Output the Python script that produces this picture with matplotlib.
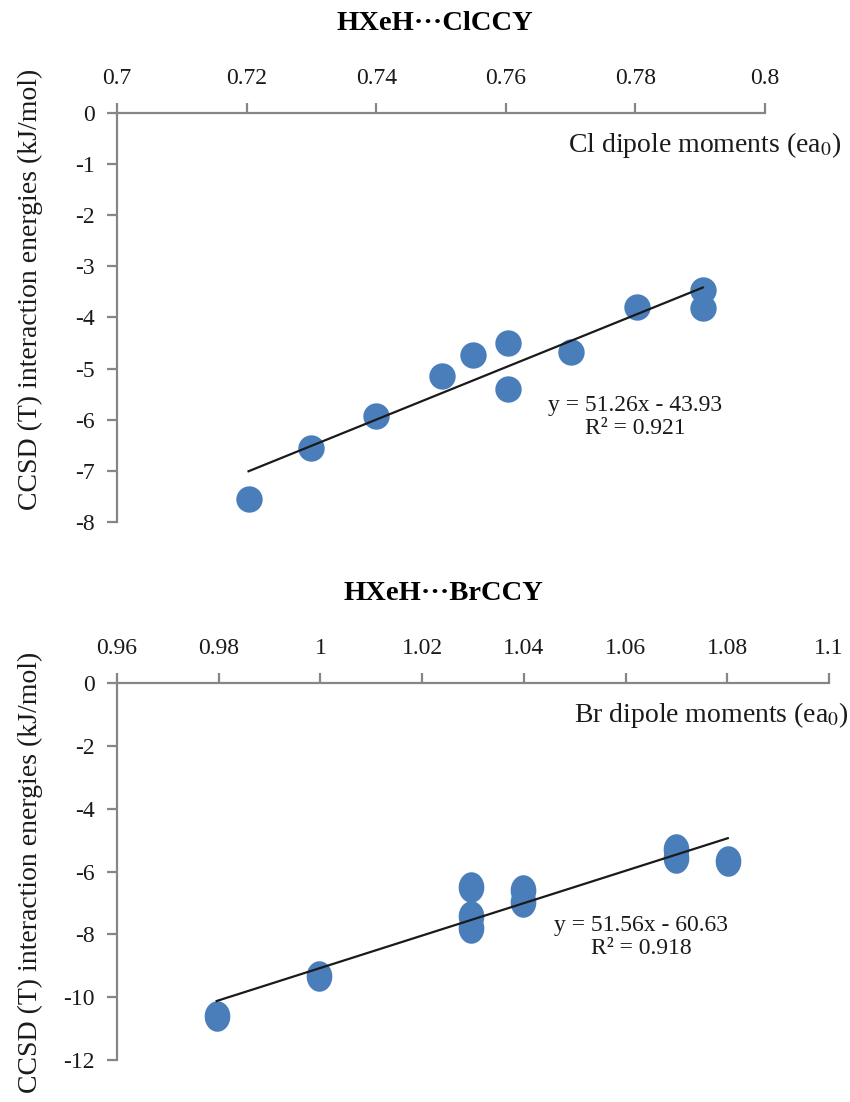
import numpy as np
import matplotlib
matplotlib.use("Agg")
from matplotlib import pyplot as plt

plt.rcParams['font.family'] = ['Liberation Serif', 'DejaVu Serif']
plt.rcParams['mathtext.fontset'] = 'stix'
plt.rcParams['axes.unicode_minus'] = False

# HXeH...ClCCY
cl_x = [0.7203, 0.7300, 0.7399, 0.7501, 0.7549, 0.7603, 0.7603, 0.7701, 0.7803, 0.7904, 0.7904]
cl_y = [-7.55, -6.55, -5.92, -5.15, -4.73, -4.49, -5.39, -4.67, -3.79, -3.46, -3.82]
cl_fit = (51.26, -43.93, 0.921)
cl_xticks = [0.7, 0.72, 0.74, 0.76, 0.78, 0.8]
cl_xticklabels = ['0.7', '0.72', '0.74', '0.76', '0.78', '0.8']
cl_yticks = [0, -1, -2, -3, -4, -5, -6, -7, -8]

# HXeH...BrCCY
br_x = [0.9796, 0.9998, 1.0297, 1.0297, 1.0297, 1.0399, 1.0399, 1.0700, 1.0700, 1.0801]
br_y = [-10.59, -9.33, -6.50, -7.42, -7.81, -6.58, -6.96, -5.27, -5.58, -5.68]
br_fit = (51.56, -60.63, 0.918)
br_xticks = [0.96, 0.98, 1.0, 1.02, 1.04, 1.06, 1.08, 1.1]
br_xticklabels = ['0.96', '0.98', '1', '1.02', '1.04', '1.06', '1.08', '1.1']
br_yticks = [0, -2, -4, -6, -8, -10, -12]

W, H = 850, 1102
fig = plt.figure(figsize=(W / 100, H / 100), dpi=100)

def px_rect(left, right, top, bottom):
    return [left / W, 1 - bottom / H, (right - left) / W, (bottom - top) / H]

def fx(px):
    return px / W

def fy(py):
    return 1 - py / H

blue = '#4A7EBB'
grey = '#868686'
t = np.linspace(0, 2 * np.pi, 60)
ellipse = np.column_stack([0.84 * np.cos(t), np.sin(t)])

panels = [
    dict(x=cl_x, y=cl_y, fit=cl_fit, xt=cl_xticks, xtl=cl_xticklabels, yt=cl_yticks,
         rect=px_rect(117, 765, 113, 522), title='HXeH\u00b7\u00b7\u00b7ClCCY', title_pos=(435, 24),
         xlabel='Cl dipole moments (ea$_0$)', xlabel_pos=(568, 145),
         eq_pos=(635, 417), ylabel_y=289, marker='o', ms=19),
    dict(x=br_x, y=br_y, fit=br_fit, xt=br_xticks, xtl=br_xticklabels, yt=br_yticks,
         rect=px_rect(117, 829, 683, 1060), title='HXeH\u00b7\u00b7\u00b7BrCCY', title_pos=(443, 593),
         xlabel='Br dipole moments (ea$_0$)', xlabel_pos=(574, 715),
         eq_pos=(641, 937), ylabel_y=872, marker=ellipse, ms=22),
]

for p in panels:
    ax = fig.add_axes(p['rect'])
    ax.plot(p['x'], p['y'], linestyle='none', marker=p['marker'], ms=p['ms'],
            color=blue, markeredgewidth=0, clip_on=False, zorder=3)
    slope, icept, r2 = p['fit']
    xs = np.array([min(p['x']), max(p['x'])])
    ax.plot(xs, slope * xs + icept, color='#1a1a1a', lw=1.6, zorder=4)

    ax.set_xlim(p['xt'][0], p['xt'][-1])
    ax.set_ylim(p['yt'][-1], p['yt'][0])
    ax.set_xticks(p['xt'])
    ax.set_xticklabels(p['xtl'])
    ax.set_yticks(p['yt'])
    ax.xaxis.tick_top()
    for s in ['right', 'bottom']:
        ax.spines[s].set_visible(False)
    for s in ['left', 'top']:
        ax.spines[s].set_color(grey)
        ax.spines[s].set_linewidth(1.6)
    ax.tick_params(axis='both', direction='out', length=7, width=1.6, color=grey,
                   labelsize=17, labelcolor='#1a1a1a')
    ax.tick_params(axis='x', pad=10)
    ax.tick_params(axis='y', pad=9)

    fig.text(fx(p['title_pos'][0]), fy(p['title_pos'][1]), p['title'],
             ha='center', va='center', fontsize=20.5, fontweight='bold')
    fig.text(fx(p['xlabel_pos'][0]), fy(p['xlabel_pos'][1]), p['xlabel'],
             ha='left', va='center', fontsize=20, color='#1a1a1a')
    fig.text(fx(p['eq_pos'][0]), fy(p['eq_pos'][1]),
             'y = %.2fx - %.2f\nR\u00b2 = %.3f' % (slope, -icept, r2),
             ha='center', va='center', fontsize=17, linespacing=1.15, color='#1a1a1a')
    fig.text(fx(30), fy(p['ylabel_y']), 'CCSD (T) interaction energies (kJ/mol)',
             rotation=90, ha='center', va='center', fontsize=20, color='#1a1a1a')

fig.savefig('out.png', dpi=100)
